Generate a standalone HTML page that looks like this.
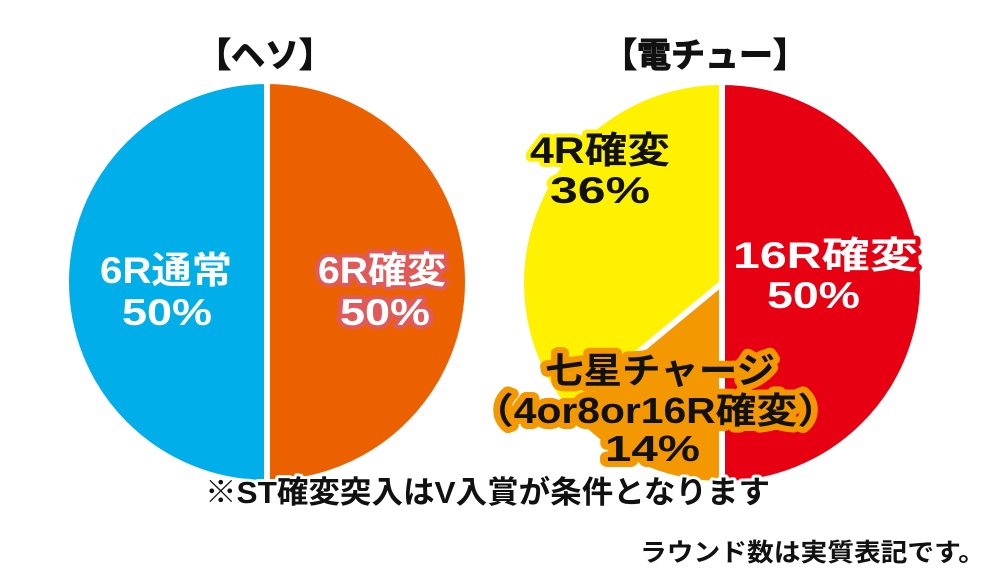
<!DOCTYPE html>
<html><head><meta charset="utf-8"><style>
body{margin:0;background:#fff;}
svg{display:block;font-family:"Liberation Sans","Noto Sans CJK JP",sans-serif;font-weight:bold;}
.lbl{paint-order:stroke;stroke-linejoin:round;}
</style></head><body>
<svg id="chart" width="1000" height="577" viewBox="0 0 1000 577">
<text x="265" y="67" font-size="34" text-anchor="middle" fill="#111" stroke="#111" stroke-width="1">【ヘソ】</text>
<text x="705" y="67" font-size="34" text-anchor="middle" fill="#111" stroke="#111" stroke-width="1">【電チュー】</text>
<g id="pies"></g>
<g id="labels">
<text class="lbl" font-size="37" fill="#fff" stroke="#00aee8" stroke-width="8"><tspan x="100" y="283" textLength="132" lengthAdjust="spacingAndGlyphs">6R通常</tspan><tspan x="122" y="325" textLength="90" lengthAdjust="spacingAndGlyphs">50%</tspan></text>
<text class="lbl" font-size="37" fill="#fff" stroke="#e05a5a" stroke-width="8"><tspan x="318" y="283" textLength="128" lengthAdjust="spacingAndGlyphs">6R確変</tspan><tspan x="340" y="325" textLength="90" lengthAdjust="spacingAndGlyphs">50%</tspan></text>
<text class="lbl" font-size="37" fill="#111" stroke="#fff200" stroke-width="8"><tspan x="530" y="163" textLength="140" lengthAdjust="spacingAndGlyphs">4R確変</tspan><tspan x="550" y="203" textLength="100" lengthAdjust="spacingAndGlyphs">36%</tspan></text>
<text class="lbl" font-size="37" fill="#fff" stroke="#e60012" stroke-width="8"><tspan x="733" y="268" textLength="185" lengthAdjust="spacingAndGlyphs">16R確変</tspan><tspan x="767" y="308" textLength="93" lengthAdjust="spacingAndGlyphs">50%</tspan></text>
<text class="lbl" font-size="36" fill="#111" stroke="#f39800" stroke-width="12"><tspan x="545" y="383" textLength="230" lengthAdjust="spacingAndGlyphs">七星チャージ</tspan><tspan x="473" y="423" textLength="365" lengthAdjust="spacingAndGlyphs">（4or8or16R確変）</tspan><tspan x="605" y="461" textLength="95" lengthAdjust="spacingAndGlyphs">14%</tspan></text>
</g>
<text class="lbl" x="205" y="503" font-size="31" textLength="565" lengthAdjust="spacingAndGlyphs" fill="#111" stroke="#fff" stroke-width="6">※ST確変突入はV入賞が条件となります</text>
<text x="640" y="561" font-size="25" textLength="345" lengthAdjust="spacingAndGlyphs" fill="#111">ラウンド数は実質表記です。</text>
</svg>
<script>
const hesoCategories=["6R通常","6R確変"];
const hesoValues=[50,50];
const hesoColors=["#00aeea","#eb6100"];
const denchuCategories=["16R確変","七星チャージ","4R確変"];
const denchuValues=[50,14,36];
const denchuColors=["#e60012","#f39800","#fff100"];
const NS="http://www.w3.org/2000/svg";
const g=document.getElementById("pies");
function pie(cx,cy,r,vals,cols,names,reverse){
  const tot=vals.reduce((a,b)=>a+b,0);
  let a=0;
  vals.forEach((v,i)=>{
    const a0=a/tot*2*Math.PI, a1=(a+v)/tot*2*Math.PI; a+=v;
    const s=reverse?-1:1;
    const x0=cx+s*r*Math.sin(a0), y0=cy-r*Math.cos(a0);
    const x1=cx+s*r*Math.sin(a1), y1=cy-r*Math.cos(a1);
    const large=(a1-a0)>Math.PI?1:0;
    const p=document.createElementNS(NS,"path");
    p.setAttribute("d",`M${cx},${cy}L${x0},${y0}A${r},${r} 0 ${large} ${reverse?0:1} ${x1},${y1}Z`);
    p.setAttribute("fill",cols[i]);
    p.setAttribute("stroke","#fff");
    p.setAttribute("stroke-width","6");
    p.setAttribute("stroke-linejoin","round");
    
    
    g.appendChild(p);
  });
}
pie(267,282,201,hesoValues,hesoColors,hesoCategories,true);
pie(722,283,201,denchuValues,denchuColors,denchuCategories,false);
</script>
</body></html>
